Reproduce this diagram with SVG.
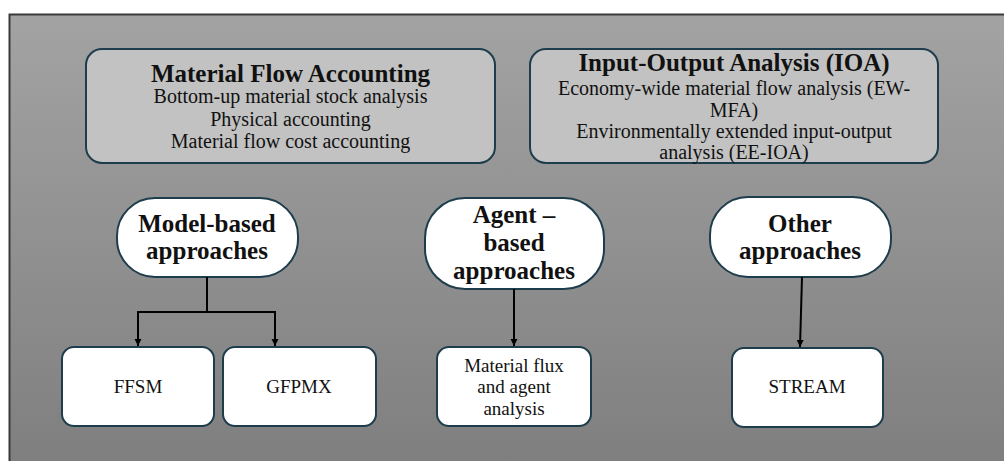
<svg xmlns="http://www.w3.org/2000/svg" width="1004" height="461" viewBox="0 0 1004 461">
<defs>
<linearGradient id="bg" x1="0" y1="0" x2="0" y2="1">
<stop offset="0" stop-color="#a3a3a3"/>
<stop offset="1" stop-color="#7e7e7e"/>
</linearGradient>
<marker id="arr" markerWidth="8" markerHeight="8" refX="7" refY="4" orient="auto" markerUnits="userSpaceOnUse">
<path d="M0,0.5 L7,4 L0,7.5 Z" fill="#000"/>
</marker>
<style>
.hdr{fill:#c2c2c2;stroke:#1d3d4c;stroke-width:2}
.nd{fill:#fff;stroke:#1d3d4c;stroke-width:2}
.t{font-family:"Liberation Serif","DejaVu Serif",serif;fill:#111;text-anchor:middle}
.b{font-weight:bold;font-size:25px}
.s{font-size:20px}
.m{font-size:19px}
.c{fill:none;stroke:#000;stroke-width:2}
</style>
</defs>
<rect x="0" y="0" width="1004" height="461" fill="#fff"/>
<rect x="9.5" y="14.5" width="1000" height="460" fill="url(#bg)" stroke="#3a3a3a" stroke-width="2"/>

<g id="mfa">
<rect class="hdr" x="86" y="49" width="409" height="114" rx="16"/>
<text class="t b" x="290.5" y="82">Material Flow Accounting</text>
<text class="t s" x="290.5" y="103">Bottom-up material stock analysis</text>
<text class="t s" x="290.5" y="126">Physical accounting</text>
<text class="t s" x="290.5" y="148">Material flow cost accounting</text>
</g>

<g id="ioa">
<rect class="hdr" x="530" y="49" width="408" height="114" rx="16"/>
<text class="t b" x="734" y="71">Input-Output Analysis (IOA)</text>
<text class="t s" x="734" y="95">Economy-wide material flow analysis (EW-</text>
<text class="t s" x="734" y="117">MFA)</text>
<text class="t s" x="734" y="138">Environmentally extended input-output</text>
<text class="t s" x="734" y="159">analysis (EE-IOA)</text>
</g>

<g id="model">
<rect class="nd" x="117" y="198" width="181" height="79" rx="38"/>
<text class="t b" x="207" y="232">Model-based</text>
<text class="t b" x="207" y="259">approaches</text>
</g>

<g id="agent">
<rect class="nd" x="425" y="198" width="179" height="91" rx="40"/>
<text class="t b" x="514" y="223">Agent –</text>
<text class="t b" x="514" y="251">based</text>
<text class="t b" x="514" y="279">approaches</text>
</g>

<g id="other">
<rect class="nd" x="710" y="197" width="181" height="80" rx="38"/>
<text class="t b" x="800" y="232">Other</text>
<text class="t b" x="800" y="259">approaches</text>
</g>

<g id="ffsm">
<rect class="nd" x="62" y="347" width="152" height="79" rx="12"/>
<text class="t m" x="138" y="393">FFSM</text>
</g>

<g id="gfpmx">
<rect class="nd" x="223" y="347" width="153" height="79" rx="12"/>
<text class="t m" x="299" y="393">GFPMX</text>
</g>

<g id="flux">
<rect class="nd" x="437" y="347" width="154" height="79" rx="12"/>
<text class="t m" x="514" y="372">Material flux</text>
<text class="t m" x="514" y="393">and agent</text>
<text class="t m" x="514" y="415">analysis</text>
</g>

<g id="stream">
<rect class="nd" x="732" y="348" width="151" height="79" rx="12"/>
<text class="t m" x="807" y="393">STREAM</text>
</g>

<g id="connectors">
<path class="c" d="M207,277 V312"/>
<path class="c" d="M207,312 H138 V346" marker-end="url(#arr)"/>
<path class="c" d="M207,312 H275 V346" marker-end="url(#arr)"/>
<path class="c" d="M514,289 V346" marker-end="url(#arr)"/>
<path class="c" d="M802,277 L800,347" marker-end="url(#arr)"/>
</g>
</svg>
